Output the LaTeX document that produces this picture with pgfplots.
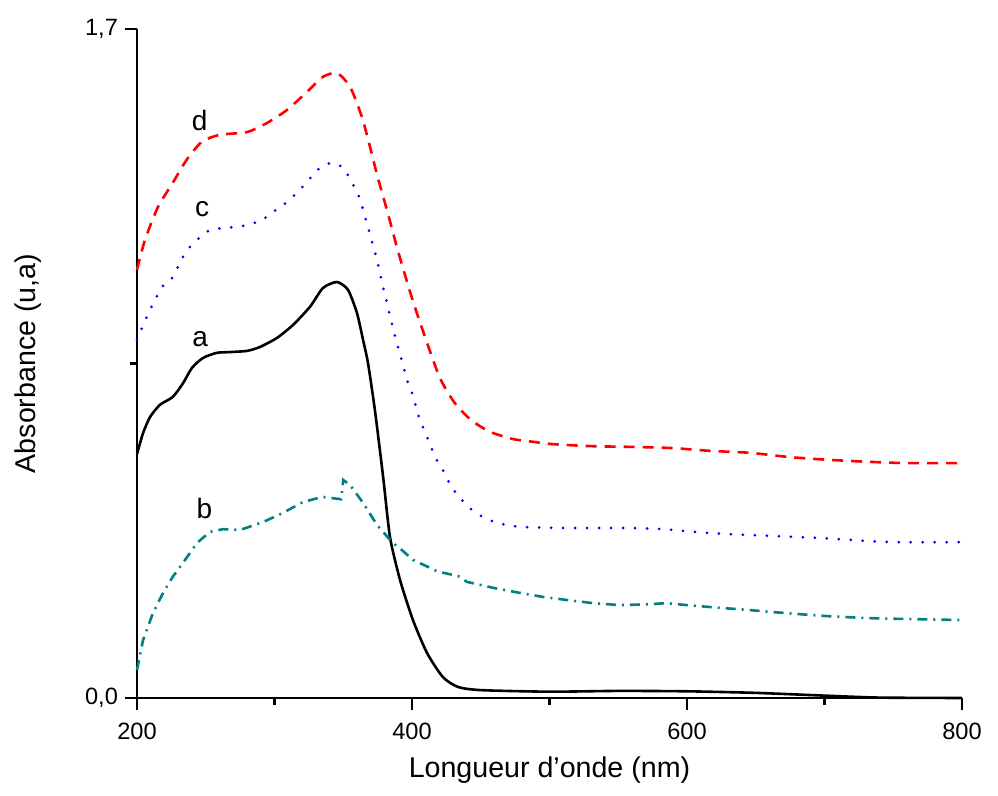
\documentclass[border=0pt]{standalone}
\usepackage{fontspec}
\setmainfont{Liberation Sans}
\usepackage{pgfplots}
\pgfplotsset{compat=1.18}
\definecolor{tealc}{RGB}{0,128,128}
\begin{document}
\begin{tikzpicture}
\begin{axis}[
 width=412.5pt, height=334.5pt, scale only axis,
 xmin=200, xmax=800, ymin=0, ymax=1.7,
 axis x line*=bottom, axis y line*=left,
 axis line style={line width=1.1pt},
 tick align=outside,
 major tick length=6pt, minor tick length=3.5pt,
 tick style={line width=1.1pt, black},
 xtick={200,400,600,800}, xticklabels={200,400,600,800},
 minor xtick={300,500,700},
 ytick={0,1.7}, yticklabels={{0,0},{1,7}},
 minor ytick={0.85},
 ticklabel style={font=\fontsize{11.8}{13}\selectfont},
 xticklabel style={yshift=-3pt},
 xlabel={Longueur d'onde (nm)}, ylabel={Absorbance (u,a)},
 label style={font=\fontsize{14.3}{16}\selectfont},
 xlabel style={at={(axis description cs:0.5,-0.1076)}, anchor=center},
 ylabel style={at={(axis description cs:-0.132,0.5)}, anchor=center},
 clip=false,
]
% a (black solid)
\addplot[black, line width=1.3pt, smooth, tension=0.4] coordinates {
(200,0.620) (204.4,0.673) (209.5,0.714) (216.7,0.745) (226,0.765) (233.5,0.800)
(240,0.839) (248,0.864) (258,0.877) (267.6,0.879) (280,0.882) (289.5,0.892)
(301.8,0.915) (313.5,0.948) (325.8,0.994) (335.3,1.042) (345.5,1.057) (353.5,1.037)
(360,0.978) (364.4,0.910) (368,0.851) (373,0.732) (379,0.562) (384,0.409)
(391.3,0.300) (400.7,0.198) (411,0.114) (422.5,0.053) (433.5,0.028) (450,0.020)
(500,0.016) (550,0.018) (600,0.017) (650,0.013) (700,0.006) (740,0.001) (800,0.0)
};
% b (teal dash-dot)
\addplot[tealc, line width=1.3pt, dash pattern=on 5pt off 3pt on 1pt off 3pt] coordinates {
(200,0.071) (204.4,0.147) (211.6,0.216) (219,0.267) (226,0.308) (235,0.351)
(243.6,0.394) (253,0.422) (262.5,0.429) (275,0.427) (291.6,0.447) (306,0.470)
(320.7,0.498) (335,0.511) (348.5,0.505) (350,0.554) (355,0.541) (364.4,0.496)
(374.5,0.440) (386,0.394) (391,0.381) (400.7,0.351) (419,0.321) (433.5,0.310)
(440,0.295) (459,0.280) (478.5,0.267) (495,0.257) (512.7,0.249) (531.6,0.241)
(551,0.236) (571,0.238) (585,0.241) (600,0.236) (624,0.229) (643.6,0.224)
(660,0.219) (682,0.213) (702,0.208) (731,0.203) (755,0.201) (800,0.198)
};
% c (blue dotted)
\addplot[blue, line width=1.5pt, line cap=round, dash pattern=on 0pt off 6pt, smooth, tension=0.4] coordinates {
(200,0.910) (207,0.968) (218,1.044) (225.5,1.067) (235,1.131) (243.6,1.164)
(253,1.189) (262.5,1.194) (272.7,1.197) (280.7,1.202) (291,1.215) (299,1.235)
(309,1.260) (317,1.286) (326,1.321) (333,1.347) (341.8,1.360) (350,1.347)
(356,1.311) (361,1.278) (367,1.210) (374.5,1.113) (379,1.044) (386,0.943)
(391,0.877) (396.4,0.808) (400,0.775) (405.8,0.706) (410,0.673) (413.8,0.638)
(418,0.605) (424,0.570) (428,0.540) (435,0.508) (443.6,0.478) (451.6,0.460)
(461.8,0.445) (478.5,0.435) (512.7,0.432) (556.4,0.432) (582.5,0.429) (616.7,0.419)
(660.4,0.412) (694.5,0.407) (730.9,0.399) (755,0.396) (800,0.396)
};
% d (red dashed)
\addplot[red, line width=1.3pt, dash pattern=on 5.5pt off 4pt, smooth, tension=0.4] coordinates {
(200,1.088) (205.8,1.164) (215.3,1.248) (226,1.309) (236,1.367) (247,1.413)
(260,1.431) (280,1.438) (294.5,1.461) (309,1.494) (323.6,1.540) (335,1.578)
(345.5,1.588) (355,1.553) (363.6,1.476) (369.5,1.400) (375,1.324) (381.8,1.240)
(389,1.146) (396,1.062) (402,0.994) (414.5,0.867) (421,0.808) (431,0.750)
(443,0.706) (457,0.676) (473.5,0.658) (488,0.651) (502.5,0.645) (529.5,0.640)
(560.7,0.638) (589.8,0.635) (616.7,0.628) (645.8,0.623) (675,0.612) (704,0.605)
(733,0.600) (758.5,0.597) (800,0.597)
};
\node[anchor=base, font=\fontsize{14}{16}\selectfont] at (axis cs:245.5,1.441) {d};
\node[anchor=base, font=\fontsize{14}{16}\selectfont] at (axis cs:247.3,1.223) {c};
\node[anchor=base, font=\fontsize{14}{16}\selectfont] at (axis cs:246,0.892) {a};
\node[anchor=base, font=\fontsize{14}{16}\selectfont] at (axis cs:249,0.455) {b};
\end{axis}
\path ([xshift=-68.5pt,yshift=-49pt]current axis.south west) rectangle ([xshift=18pt,yshift=14.5pt]current axis.north east);
\end{tikzpicture}
\end{document}
